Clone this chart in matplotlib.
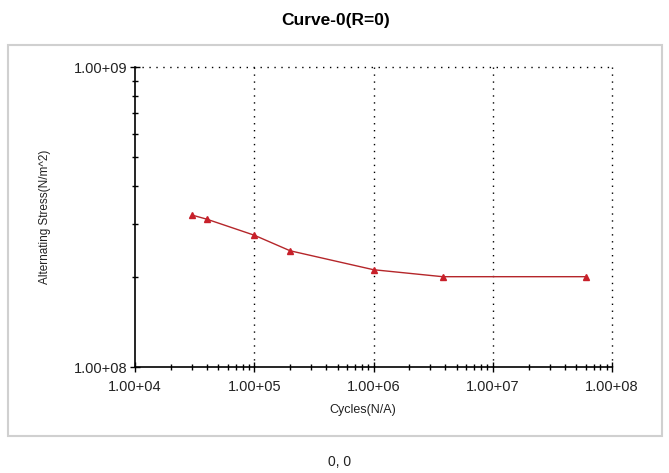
import math
import matplotlib
matplotlib.use("Agg")
import matplotlib.pyplot as plt
from matplotlib.ticker import FixedLocator, LogLocator, NullFormatter, FuncFormatter
from matplotlib.patches import Rectangle

plt.rcParams['font.family'] = ['Liberation Sans', 'DejaVu Sans']

cycles = [3.0e4, 4.0e4, 1.0e5, 2.0e5, 1.0e6, 3.8e6, 6.0e7]
stress = [3.21e8, 3.11e8, 2.75e8, 2.44e8, 2.11e8, 2.0e8, 2.0e8]
x_ticks = [1e4, 1e5, 1e6, 1e7, 1e8]
y_ticks = [1e8, 1e9]
title = "Curve-0(R=0)"
xlabel = "Cycles(N/A)"
ylabel = "Alternating Stress(N/m^2)"
footer = "0, 0"

W, H = 669, 473
fig = plt.figure(figsize=(W / 100, H / 100), dpi=100)
fig.patch.set_facecolor('white')

# outer panel frame
fig.patches.append(Rectangle((8 / W, 1 - 436 / H), (662 - 8) / W, (436 - 45) / H,
                             transform=fig.transFigure, fill=False,
                             edgecolor='#d0d0d0', linewidth=1.5, zorder=0))

ax = fig.add_axes([135 / W, 1 - 367 / H, (612 - 135) / W, (367 - 67) / H])
ax.set_xscale('log')
ax.set_yscale('log')
ax.set_xlim(1e4, 1e8)
ax.set_ylim(1e8, 1e9)

ax.plot(cycles, stress, color='#b5262a', linewidth=1.0, marker='^',
        markersize=5, markerfacecolor='#c8202a', markeredgecolor='#c8202a',
        zorder=3, clip_on=False)

for s in ['top', 'right']:
    ax.spines[s].set_visible(False)
for s in ['left', 'bottom']:
    ax.spines[s].set_linewidth(1.2)
    ax.spines[s].set_color('black')

fmt = FuncFormatter(lambda v, p: "1.00+%02d" % round(math.log10(v)))
ax.xaxis.set_major_locator(FixedLocator(x_ticks))
ax.yaxis.set_major_locator(FixedLocator(y_ticks))
ax.xaxis.set_major_formatter(fmt)
ax.yaxis.set_major_formatter(fmt)
ax.xaxis.set_minor_locator(LogLocator(base=10, subs=range(2, 10)))
ax.yaxis.set_minor_locator(LogLocator(base=10, subs=range(2, 10)))
ax.xaxis.set_minor_formatter(NullFormatter())
ax.yaxis.set_minor_formatter(NullFormatter())
ax.tick_params(which='major', direction='inout', length=7, width=1, labelsize=10.5,
               colors='black', labelcolor='#222222')
ax.tick_params(axis='x', which='major', pad=6)
ax.tick_params(axis='y', which='major', pad=2)
ax.tick_params(which='minor', direction='inout', length=5, width=1)

# dotted grid at majors
for xv in x_ticks[1:]:
    ax.axvline(xv, color='black', linestyle=(0, (1, 4)), linewidth=1.0, zorder=1, clip_on=False)
ax.axhline(y_ticks[-1], color='black', linestyle=(0, (1, 4)), linewidth=1.0, zorder=1, clip_on=False)

ax.set_xlabel(xlabel, fontsize=9, color='#222222')
ax.xaxis.set_label_coords((363 - 135) / (612 - 135), -(410 - 367) / (367 - 67))
ax.xaxis.label.set_va('center')
ax.set_ylabel(ylabel, fontsize=8.5, color='#222222')
ax.yaxis.set_label_coords(-(135 - 45) / (612 - 135), 0.5)
ax.yaxis.label.set_va('center')

fig.text(336 / W, 1 - 20 / H, title, ha='center', va='center', fontsize=12.5, fontweight='bold')
fig.text(340 / W, 1 - 462 / H, footer, ha='center', va='center', fontsize=10, color='#222222')

fig.savefig('out.png', dpi=100)
